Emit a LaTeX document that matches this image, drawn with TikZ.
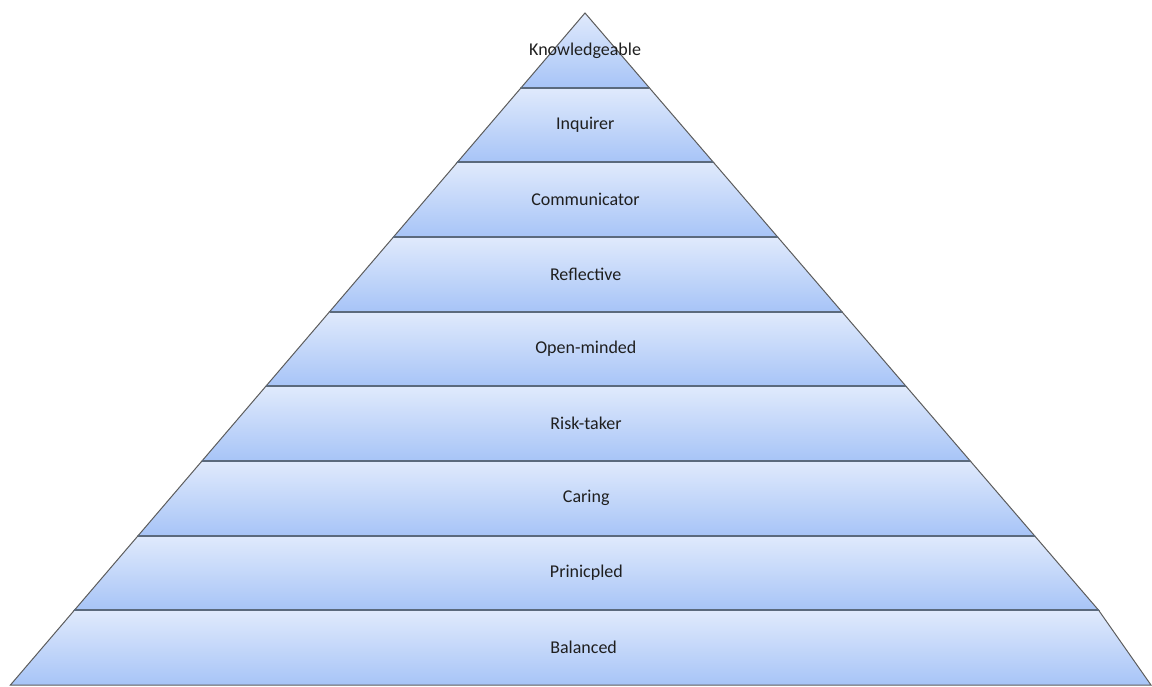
\documentclass[tikz,border=0pt]{standalone}
\usepackage{fontspec}
\setmainfont{Carlito}
\usetikzlibrary{calc}
\definecolor{bandtop}{HTML}{E0EAFC}
\definecolor{bandbottom}{HTML}{A7C4F7}
\definecolor{edgegray}{HTML}{5C5C5C}
\definecolor{seprule}{HTML}{5B6A7D}
\def\apexX{585}
\def\apexY{673}
\def\bandH{74.67}
\def\leftslope{0.855}
\def\rightslope{0.86}

\begin{document}
\begin{tikzpicture}[
    x=1pt,y=1pt,
    band/.style={
      top color=bandtop,bottom color=bandbottom,
      draw=edgegray,line width=1pt
    },
    divider/.style={
      draw=seprule,line width=2pt
    },
    bandtext/.style={
      font=\fontsize{18}{20}\selectfont,text=black!88
    }
  ]
    \useasboundingbox (0,0) rectangle (1152,686);

    % bands, top to bottom
    \foreach \i/\word in {0/Knowledgeable,1/Inquirer,2/Communicator,3/Reflective,4/Open-minded,5/Risk-taker,6/Caring,7/Prinicpled,8/Balanced} {
      \pgfmathsetmacro\dtop{\i*\bandH}
      \pgfmathsetmacro\dbot{(\i+1)*\bandH}
      \pgfmathsetmacro\xtl{\apexX-\leftslope*\dtop}
      \pgfmathsetmacro\xtr{\apexX+\rightslope*\dtop}
      \pgfmathsetmacro\xbl{\apexX-\leftslope*\dbot}
      \pgfmathsetmacro\xbr{min(\apexX+\rightslope*\dbot,1151)}
      \coordinate (TL\i) at (\xtl,\apexY-\dtop);
      \coordinate (TR\i) at (\xtr,\apexY-\dtop);
      \coordinate (BL\i) at (\xbl,\apexY-\dbot);
      \coordinate (BR\i) at (\xbr,\apexY-\dbot);
      \shade[band] (TL\i) -- (TR\i) -- (BR\i) -- (BL\i) -- cycle;
      \node[bandtext] (W\i) at ($(TL\i)!0.5!(TR\i)!0.5!($(BL\i)!0.5!(BR\i)$)$) {\word};
    }

    % dividers between bands
    \foreach \i in {0,...,7} {
      \draw[divider] (BL\i) -- (BR\i);
    }
  \end{tikzpicture}
\end{document}
